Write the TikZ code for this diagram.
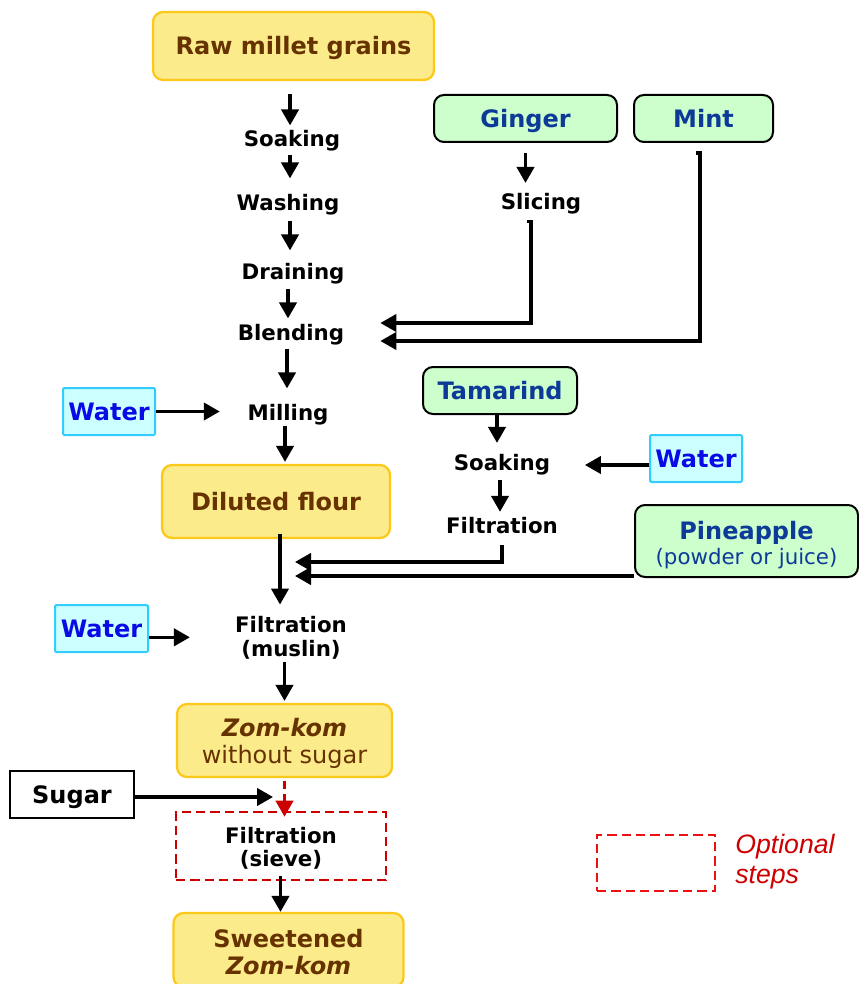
\documentclass[tikz,border=0pt]{standalone}
\usepackage{fontspec}
\setmainfont{DejaVu Sans}
\newfontfamily\arialfont{Liberation Sans}
\usetikzlibrary{arrows.meta}
\definecolor{yfill}{HTML}{FCEB8B}
\definecolor{ybord}{HTML}{FCC81A}
\definecolor{brownt}{HTML}{663300}
\definecolor{gfill}{HTML}{CCFFCC}
\definecolor{dblue}{HTML}{0D3A99}
\definecolor{cfill}{HTML}{CCFFFF}
\definecolor{cbord}{HTML}{33CCFF}
\definecolor{wblue}{HTML}{0A0AE6}
\definecolor{dred}{HTML}{CC0000}
\definecolor{bred}{HTML}{EE1111}
\begin{document}
\begin{tikzpicture}[x=0.75pt,y=-0.75pt,
  sz/.style 2 args={minimum width=#1*0.75pt, minimum height=#2*0.75pt},
  sh/.style 2 args={shorten <=#1*0.75pt, shorten >=#2*0.75pt},
  oneline/.style={text height=13.1pt, text depth=0pt},
  box/.style={rounded corners=7.5pt, inner sep=0pt, align=center},
  yel/.style={box, draw=ybord, fill=yfill, line width=1.7pt, text=brownt,
    font=\bfseries\fontsize{18}{20}\selectfont},
  grn/.style={box, draw=black, fill=gfill, line width=1.5pt, text=dblue,
    font=\bfseries\fontsize{18}{20}\selectfont},
  wat/.style={draw=cbord, fill=cfill, line width=1.5pt, rounded corners=1pt,
    inner sep=0pt, text=wblue, sz={92}{47}, oneline,
    font=\bfseries\fontsize{18}{20}\selectfont},
  lbl/.style={font=\bfseries\fontsize{16}{18}\selectfont, inner sep=2.25pt,
    text height=12pt, text depth=3.5pt},
  lbltwo/.style={font=\bfseries\fontsize{16}{18}\selectfont, inner sep=2.25pt,
    align=center},
  optbox/.style={dash pattern=on 7pt off 3.75pt, line width=2pt, inner sep=0pt},
  arr/.style={line width=2.4pt, -{Triangle[length=12pt,width=13pt]}},
  optarr/.style={arr, draw=dred, dash pattern=on 6pt off 3.5pt},
  elbow/.style={arr, line join=miter}
]
\useasboundingbox (0,0) rectangle (859,984);

% --- millet line ---
\node[yel, oneline, sz={281}{68}] (raw) at (293.5,46) {Raw millet grains};
\node[lbl] (soak1) at (292,141) {Soaking};
\node[lbl] (wash) at (288,205) {Washing};
\node[lbl] (drain) at (293,274) {Draining};
\node[lbl] (blend) at (291,335) {Blending};
\node[lbl] (mill) at (288,415) {Milling};
\node[wat] (water1) at (109,411.5) {Water};
\node[yel, oneline, sz={228}{73}] (diluted) at (276,501.5) {Diluted flour};

% --- flavourings ---
\node[grn, oneline, sz={183}{47}] (ginger) at (525.5,118.5) {Ginger};
\node[grn, oneline, sz={139}{47}] (mint) at (703.5,118.5) {Mint};
\node[lbl] (slice) at (541,204) {Slicing};
\node[grn, oneline, sz={154}{47}] (tamarind) at (500,390.5) {Tamarind};
\node[lbl] (soak2) at (502,465) {Soaking};
\node[wat] (water2) at (696,458.5) {Water};
\node[lbl] (filt1) at (502,528) {Filtration};
\node[grn, sz={223}{72}] (pine) at (746.5,541)
  {\rule{0pt}{19.7pt}Pineapple\\[-1pt]{\mdseries\fontsize{16}{18}\selectfont(powder or juice)}};

% --- mixing and finishing ---
\node[lbltwo] (filtm) at (291,637.3) {Filtration\\(muslin)};
\node[wat, sz={93}{47}] (water3) at (101.5,628.5) {Water};
\node[yel, sz={215}{73}] (zom) at (284.5,740.5)
  {\rule{0pt}{18pt}\textit{Zom-kom}\\{\mdseries without sugar}};
\node[draw=black, fill=white, line width=1.5pt, inner sep=0pt, sz={124}{47},
  oneline, font=\bfseries\fontsize{18}{20}\selectfont] (sugar) at (72,794.5) {Sugar};
\coordinate (sugarin) at (273,797);
\node[optbox, draw=dred, sz={210}{68}, align=center,
  font=\bfseries\fontsize{16}{17.5}\selectfont] (sieve) at (281,846)
  {\rule{0pt}{15.2pt}Filtration\\(sieve)};
\node[yel, sz={230}{74}] (sweet) at (288.5,950)
  {\rule{0pt}{16.7pt}Sweetened\\\textit{Zom-kom}};

% --- legend ---
\node[optbox, draw=bred, sz={118}{56}] (opt) at (656,863) {};
\node[anchor=west, inner sep=0pt, text=dred, align=left,
  font=\arialfont\itshape\fontsize{20}{22.5}\selectfont] (opttxt) at (735,862)
  {Optional\\steps};

% --- connectors ---
\coordinate (tin) at (295,562);
\coordinate (pin) at (295,576);

\draw[arr, sh={13}{2}] ([xshift=-2.6pt]raw.south) -- ([xshift=-2.6pt]raw.south |- soak1.north);
\draw[arr, sh={0}{13}] ([xshift=-1.5pt]soak1.south) -- ([xshift=-1.5pt]soak1.south |- wash.north);
\draw[arr, sh={2}{10}] ([xshift=1.5pt]wash.south) -- ([xshift=1.5pt]wash.south |- drain.north);
\draw[arr, sh={1}{3}] ([xshift=-3.75pt]drain.south) -- ([xshift=-3.75pt]drain.south |- blend.north);
\draw[arr, sh={0}{13}] ([xshift=-3pt]blend.south) -- ([xshift=-3pt]blend.south |- mill.north);
\draw[arr, sh={-3}{2}] ([xshift=-2.25pt]mill.south) -- ([xshift=-2.25pt]mill.south |- diluted.north);
\draw[arr, sh={0}{24.5}] (water1.east) -- (water1.east -| mill.west);

\draw[arr, sh={10}{7.5}] (ginger.south) -- (ginger.south |- slice.north);
\draw[elbow] ([xshift=-10.5pt,yshift=-2.7pt]slice.south) -- ++(4,0)
  |- ([xshift=24.75pt,yshift=9pt]blend.east);
\draw[elbow] ([xshift=-5.6pt,yshift=-7.5pt]mint.south) -- ++(4,0)
  |- ([xshift=24.75pt,yshift=-4.5pt]blend.east);

\draw[arr, sh={0}{8.5}] ([xshift=-2.25pt]tamarind.south) -- ([xshift=-2.25pt]tamarind.south |- soak2.north);
\draw[arr, sh={0}{31.5}] (water2.west |- soak2) -- (soak2);
\draw[arr, sh={1.6}{2.6}] ([xshift=-1.5pt]soak2.south) -- ([xshift=-1.5pt]soak2.south |- filt1.north);
\draw[elbow, sh={3.6}{0}] (filt1.south) |- (tin);
\draw[arr] (pine.west |- pin) -- (pin);

\draw[arr, sh={-5}{8}] ([xshift=3pt]diluted.south) -- ([xshift=3pt]diluted.south |- filtm.north);
\draw[arr, sh={0}{42}] (water3.east |- filtm) -- (filtm);
\draw[arr, sh={0}{2}] (zom.north |- filtm.south) -- (zom.north);
\draw[optarr, sh={3}{-6}] (zom.south) -- (zom.south |- sieve.north);
\draw[arr] (sugar.east |- sugarin) -- (sugarin);
\draw[arr, sh={-5}{0}] ([xshift=-0.4pt]sieve.south) -- ([xshift=-0.4pt]sieve.south |- sweet.north);
\end{tikzpicture}
\end{document}
